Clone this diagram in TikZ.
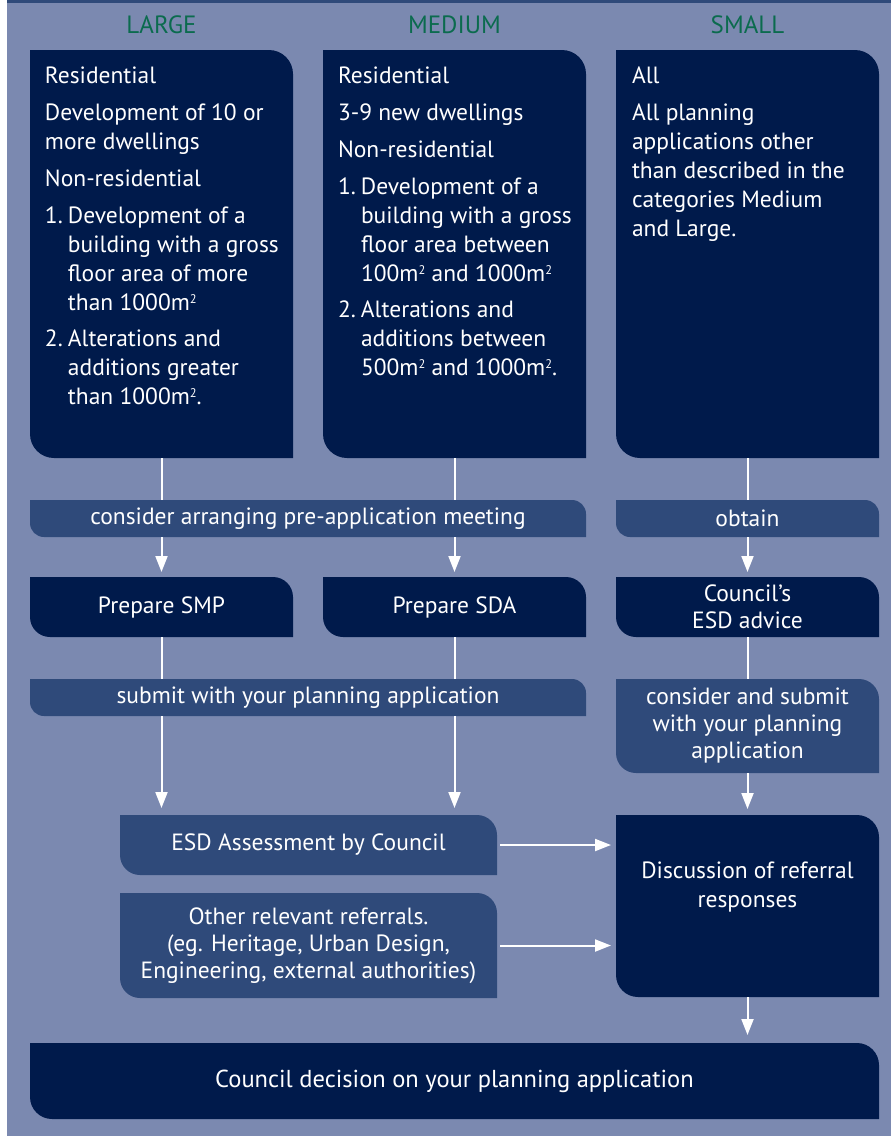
\documentclass[tikz,border=0pt]{standalone}
\usepackage{fontspec}
\setmainfont{PT Sans}
\usetikzlibrary{arrows.meta,backgrounds,calc}
\definecolor{bgc}{HTML}{7B89B0}
\definecolor{navy}{HTML}{001A4B}
\definecolor{midc}{HTML}{2F4A7A}
\definecolor{hdr}{HTML}{0B6B4E}
\newcommand\itm[1]{\makebox[23pt][l]{#1}}
\newcommand\ind{\hspace*{23pt}}
\newcommand\sq{\raisebox{7.5pt}{\fontsize{12.5}{12.5}\selectfont 2}}
\newcommand\leaf[3]{% node, radius, colour
  \fill[#3] (#1.north west) -- ([xshift=-#2]#1.north east)
    arc[start angle=90,end angle=0,radius=#2] -- (#1.south east)
    -- ([xshift=#2]#1.south west) arc[start angle=270,end angle=180,radius=#2] -- cycle;}
\tikzset{
  box/.style={inner sep=0pt, outer sep=0pt, text=white, align=center,
    font=\fontsize{23.5}{27}\selectfont},
  bigtxt/.style={inner sep=0pt, outer sep=0pt, text=white, align=left,
    anchor=north west, font=\fontsize{23.5}{29}\selectfont},
  hdrtxt/.style={text=hdr, font=\fontsize{25}{27}\selectfont, inner sep=0pt},
  ln/.style={white, line width=2pt},
  arr/.style={white, line width=2pt, -{Triangle[width=12pt,length=16pt]}, shorten >=5pt},
}
\begin{document}
\begin{tikzpicture}[x=1pt,y=-1pt]
\useasboundingbox (0,0) rectangle (891,1136);

% headers
\node[hdrtxt] (hL) at (161.5,25) {LARGE};
\node[hdrtxt] (hM) at (454.5,25) {MEDIUM};
\node[hdrtxt] (hS) at (747.5,25) {SMALL};

% top category boxes
\node[box, minimum width=263pt, minimum height=408pt] (large) at (161.5,254) {};
\node[box, minimum width=263pt, minimum height=408pt] (medium) at (454.5,254) {};
\node[box, minimum width=263pt, minimum height=408pt] (small) at (747.5,254) {};

\node[bigtxt] (tL) at (45,67) {Residential\\[8pt]
Development of 10 or\\
more dwellings\\[8pt]
Non-residential\\[8pt]
\itm{1.}Development of a\\
\ind building with a gross\\
\ind floor area of more\\
\ind than 1000m\sq\\[7pt]
\itm{2.}Alterations and\\
\ind additions greater\\
\ind than 1000m\sq.};

\node[bigtxt] (tM) at (338,67) {Residential\\[8pt]
3-9 new dwellings\\[8pt]
Non-residential\\[8pt]
\itm{1.}Development of a\\
\ind building with a gross\\
\ind floor area between\\
\ind 100m\sq{} and 1000m\sq\\[7pt]
\itm{2.}Alterations and\\
\ind additions between\\
\ind 500m\sq{} and 1000m\sq.};

\node[bigtxt] (tS) at (632,67) {All\\[8pt]
All planning\\
applications other\\
than described in the\\
categories Medium\\
and Large.};

% row 2
\node[box, minimum width=556pt, minimum height=37pt] (bar1) at (308,518.5) {consider arranging pre-application meeting};
\node[box, minimum width=263pt, minimum height=37pt] (obtain) at (747.5,518.5) {obtain};

% row 3
\node[box, minimum width=263pt, minimum height=60pt] (smp) at (161.5,607) {Prepare SMP};
\node[box, minimum width=263pt, minimum height=60pt] (sda) at (454.5,607) {Prepare SDA};
\node[box, minimum width=263pt, minimum height=60pt] (advice) at (747.5,607) {Council’s\\ESD advice};

% row 4
\node[box, minimum width=556pt, minimum height=37pt] (bar3) at (308,697.5) {submit with your planning application};
\node[box, minimum width=263pt, minimum height=94pt] (consider) at (747.5,726) {consider and submit\\with your planning\\application};

% row 5
\node[box, minimum width=377pt, minimum height=60pt] (esd) at (308.5,845) {ESD Assessment by Council};
\node[box, minimum width=377pt, minimum height=105pt] (other) at (308.5,945.5) {Other relevant referrals.\\(eg. Heritage, Urban Design,\\Engineering, external authorities)};
\node[box, minimum width=263pt, minimum height=182pt] (disc) at (747.5,906) {};
\node[box, font=\fontsize{23.5}{29}\selectfont] (discT) at (747.5,887) {Discussion of referral\\responses};

% decision
\node[box, minimum width=849pt, minimum height=76pt, font=\fontsize{24.5}{27}\selectfont] (decision) at (454.5,1081) {Council decision on your planning application};

% connectors
\draw[ln] (large.south) -- (bar1.north -| large.south);
\draw[ln] (medium.south) -- (bar1.north -| medium.south);
\draw[ln] (small.south) -- (obtain.north);
\draw[arr] (bar1.south -| smp.north) -- (smp.north);
\draw[arr] (bar1.south -| sda.north) -- (sda.north);
\draw[arr] (obtain.south) -- (advice.north);
\draw[ln] (smp.south) -- (bar3.north -| smp.south);
\draw[ln] (sda.south) -- (bar3.north -| sda.south);
\draw[ln] (advice.south) -- (consider.north);
\draw[arr, shorten >=7pt] (bar3.south -| smp.south) -- (esd.north -| smp.south);
\draw[arr, shorten >=7pt] (bar3.south -| sda.south) -- (esd.north -| sda.south);
\draw[arr, shorten >=6pt] (consider.south) -- (disc.north);
\draw[arr, shorten <=3pt] (esd.east) -- (esd.east -| disc.west);
\draw[arr, shorten <=3pt] (other.east) -- (other.east -| disc.west);
\draw[arr, shorten >=8pt] (disc.south) -- (decision.north -| disc.south);

\begin{scope}[on background layer]
  \fill[white] (0,0) rectangle (891,1136);
  \fill[bgc] (7,0) rectangle (891,1136);
  \fill[midc] (7,0) rectangle (891,2.5);
  \leaf{large}{24pt}{navy}
  \leaf{medium}{24pt}{navy}
  \leaf{small}{24pt}{navy}
  \leaf{bar1}{14pt}{midc}
  \leaf{obtain}{14pt}{midc}
  \leaf{smp}{20pt}{navy}
  \leaf{sda}{20pt}{navy}
  \leaf{advice}{20pt}{navy}
  \leaf{bar3}{14pt}{midc}
  \leaf{consider}{20pt}{midc}
  \leaf{esd}{20pt}{midc}
  \leaf{other}{20pt}{midc}
  \leaf{disc}{22pt}{navy}
  \leaf{decision}{22pt}{navy}
\end{scope}
\end{tikzpicture}
\end{document}
